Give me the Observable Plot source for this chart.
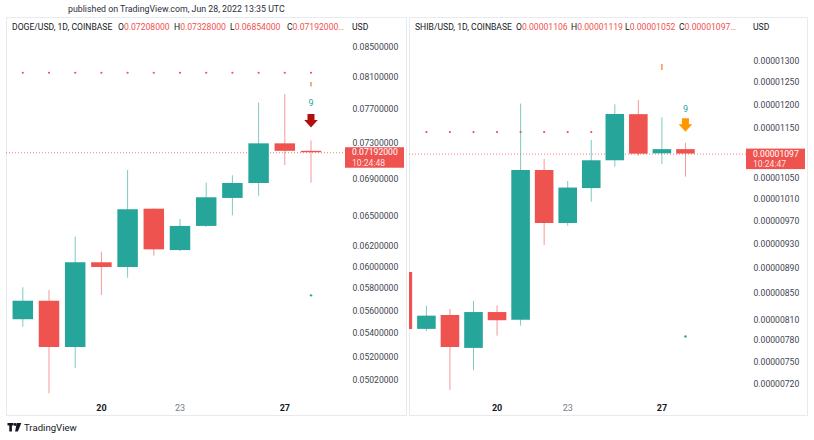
<!DOCTYPE html>
<html><head><meta charset="utf-8">
<script src="https://cdn.jsdelivr.net/npm/d3@7"></script>
<script src="https://cdn.jsdelivr.net/npm/@observablehq/plot@0.6"></script>
<style>
body{margin:0;background:#fff;font-family:Roboto,"Noto Sans",sans-serif;}
#root{position:relative;width:814px;height:440px;overflow:hidden;background:#fff}
.abs{position:absolute;white-space:nowrap;line-height:1}
.panel{position:absolute;outline:1px solid #e9eaee;outline-offset:-1px;overflow:hidden}
.panel svg{position:absolute;left:0;top:0}
.hdr{font-size:8.6px;color:#131722}
.hdr .v{color:#ef5350}
.hdr span{position:absolute;top:0}
.usd{font-size:8.6px;color:#131722}
</style></head><body><div id="root"></div>
<script>
// ---------- DATA ----------
const dogeDays  = [17,18,19,20,21,22,23,24,25,26,27,28];
const dogeOpen  = [0.05521,0.05685,0.05284,0.06042,0.05997,0.06577,0.06160,0.06400,0.06690,0.06850,0.07294,0.07208];
const dogeHigh  = [0.05807,0.05783,0.06292,0.06144,0.06993,0.06580,0.06471,0.06854,0.06934,0.07779,0.07886,0.07328];
const dogeLow   = [0.05456,0.04910,0.05109,0.05737,0.05896,0.06105,0.06150,0.06390,0.06508,0.06713,0.07048,0.06854];
const dogeClose = [0.05685,0.05284,0.06042,0.05997,0.06571,0.06167,0.06400,0.06697,0.06850,0.07294,0.07208,0.07192];
const dogeTicks = [0.085,0.081,0.077,0.073,0.069,0.065,0.062,0.060,0.058,0.056,0.054,0.052,0.0502];
const dogeDotDays = [17,18,19,20,21,22,23,24,25,26,27,28];
const dogeDotLevel = [0.08163];
const dogeSignal = {day:28, nine:0.07784, arrow:0.07568, dot:0.05738, tick:[0.0798,0.08038]};

const shibDays  = [16,17,18,19,20,21,22,23,24,25,26,27,28];
const shibOpen  = [0.000008836,0.000007963,0.000008168,0.000007691,0.000008212,0.000008098,0.000010647,0.000009663,0.000010300,0.000010837,0.000011790,0.000010975,0.000011060];
const shibHigh  = [0.000008900,0.000008308,0.000008258,0.000008380,0.000008314,0.000012020,0.000010863,0.000010435,0.000011246,0.000012005,0.000012100,0.000011722,0.000011190];
const shibLow   = [0.000007900,0.000007933,0.000007125,0.000007383,0.000007865,0.000008010,0.000009282,0.000009616,0.000010047,0.000010711,0.000010928,0.000010764,0.000010520];
const shibClose = [0.000007963,0.000008158,0.000007704,0.000008212,0.000008090,0.000010647,0.000009663,0.000010310,0.000010837,0.000011793,0.000010968,0.000011060,0.000010970];
const shibTicks = [0.000013,0.0000125,0.000012,0.0000115,0.0000105,0.0000101,0.0000097,0.0000093,0.0000089,0.0000085,0.0000081,0.0000078,0.0000075,0.0000072];
const shibDotDays = [17,18,19,20,21,22,23,24];
const shibDotLevel = [0.00001142];
const shibSignal = {day:28, nine:0.00001192, arrow:0.000011575, dot:0.00000786, tickDay:27, tick:[0.00001278,0.00001292]};

const xTicksBold = [20,27];
const xTicksNormal = [23];

// ---------- STYLE ----------
const GREEN = "#26a69a", RED = "#ef5350";
const FONT = 'Roboto,"Noto Sans",sans-serif';
const FS = "8.6px";

function rows(days,o,h,l,c){return days.map((d,i)=>({day:d,open:o[i],high:h[i],low:l[i],close:c[i]}));}

const arrowSymbol = {draw(ctx){
  ctx.moveTo(-3.5,-6.5); ctx.lineTo(3.5,-6.5); ctx.lineTo(3.5,-0.5); ctx.lineTo(6.8,-0.5);
  ctx.lineTo(0,7); ctx.lineTo(-6.8,-0.5); ctx.lineTo(-3.5,-0.5); ctx.closePath();
}};

function priceTag(price,l1,l2){
  return (index,scales,values,dims)=>{
    const y = scales.y(price);
    const x = dims.width - dims.marginRight - 4;
    const g = d3.create("svg:g").attr("font-family",FONT).attr("font-size",FS).attr("text-anchor","start");
    g.append("rect").attr("x",x).attr("y",y-5).attr("width",59).attr("height",20.5).attr("fill",RED);
    g.append("text").attr("x",x+7).attr("y",y+0.5).attr("dy","0.32em").attr("fill","#fff").text(l1);
    g.append("text").attr("x",x+7).attr("y",y+10.7).attr("dy","0.32em").attr("fill","#fff").attr("fill-opacity",0.85).text(l2);
    return g.node();
  };
}

function chart(o){
  const data = rows(o.days,o.open,o.high,o.low,o.close);
  const up = data.filter(d=>d.close>=d.open), dn = data.filter(d=>d.close<d.open);
  const last = data[data.length-1];
  const s = o.signal;
  return Plot.plot({
    width:o.width, height:399,
    marginLeft:0, marginRight:58, marginTop:0, marginBottom:15,
    x:{type:"linear", domain:o.xDomain, range:o.xRange, axis:null},
    y:{type:"log", domain:o.yDomain, range:o.yRange, axis:null},
    style:{fontFamily:FONT, fontSize:FS, color:"#434651", background:"transparent"},
    marks:[
      Plot.ruleY([last.close],{stroke:RED, strokeDasharray:"1,2", strokeOpacity:0.75}),
      Plot.dot(o.dotDays,{x:d=>d, y:()=>o.dotLevel[0], r:1.1, fill:RED, stroke:null}),
      Plot.ruleX(up,{x:"day", y1:"low", y2:"high", stroke:GREEN, strokeOpacity:0.6}),
      Plot.ruleX(dn,{x:"day", y1:"low", y2:"high", stroke:RED, strokeOpacity:0.6}),
      Plot.ruleX(up,{x:"day", y1:"open", y2:"close", stroke:GREEN, strokeWidth:o.bodyW}),
      Plot.ruleX(dn,{x:"day", y1:"open", y2:"close", stroke:RED, strokeWidth:o.bodyW}),
      Plot.ruleX([s],{x:d=>d.tickDay??d.day, y1:d=>d.tick[0], y2:d=>d.tick[1], stroke:"#f5894f", strokeWidth:1.4}),
      Plot.text([s],{x:"day", y:"nine", text:()=>"9", fill:GREEN, fontSize:9}),
      Plot.dot([s],{x:"day", y:"arrow", symbol:arrowSymbol, r:5, fill:o.arrowColor, stroke:null}),
      Plot.dot([s],{x:"day", y:"dot", r:1.2, fill:GREEN, stroke:null}),
      Plot.text(o.ticks,{y:d=>d, frameAnchor:"right", textAnchor:"start", dx:3, text:d=>d.toFixed(8), fill:"#434651"}),
      Plot.axisX({anchor:"bottom", ticks:xTicksBold, tickFormat:d=>String(d), tickSize:0, tickPadding:3, fontWeight:"bold", color:"#131722", fontSize:9, label:null}),
      Plot.axisX({anchor:"bottom", ticks:xTicksNormal, tickFormat:d=>String(d), tickSize:0, tickPadding:3, color:"#787b86", fontSize:9, label:null}),
      priceTag(last.close, o.tagText, o.tagTime)
    ]
  });
}

const root = document.getElementById("root");
function add(html){const d=document.createElement("div");d.innerHTML=html;const n=d.firstElementChild;root.appendChild(n);return n;}

add(`<div class="abs" style="left:68px;top:5px;font-size:8.8px;color:#2a2e39">published on TradingView.com, Jun 28, 2022 13:35 UTC</div>`);

const p1 = add(`<div class="panel" style="left:6px;top:17px;width:401px;height:399px"></div>`);
p1.appendChild(chart({
  width:401, days:dogeDays, open:dogeOpen, high:dogeHigh, low:dogeLow, close:dogeClose,
  xDomain:[17,28], xRange:[16.3,304.5], yDomain:[0.0502,0.085], yRange:[362.3,29.7],
  ticks:dogeTicks, dotDays:dogeDotDays, dotLevel:dogeDotLevel, signal:dogeSignal,
  bodyW:20.5, arrowColor:"#b20f0f", tagText:"0.07192000", tagTime:"10:24:48"
}));
const p2 = add(`<div class="panel" style="left:409px;top:17px;width:399px;height:399px"></div>`);
p2.appendChild(chart({
  width:399, days:shibDays, open:shibOpen, high:shibHigh, low:shibLow, close:shibClose,
  xDomain:[17,28], xRange:[16.9,275.95], yDomain:[0.0000072,0.000013], yRange:[367,43.7],
  ticks:shibTicks, dotDays:shibDotDays, dotLevel:shibDotLevel, signal:shibSignal,
  bodyW:18.6, arrowColor:"#ff9800", tagText:"0.00001097", tagTime:"10:24:47"
}));

// headers
add(`<div class="abs hdr" style="left:0;top:23px;width:410px;height:10px">
<span style="left:12px">DOGE/USD, 1D, COINBASE</span>
<span style="left:118px">O<span class="v" style="position:static">0.07208000</span></span>
<span style="left:174px">H<span class="v" style="position:static">0.07328000</span></span>
<span style="left:230px">L<span class="v" style="position:static">0.06854000</span></span>
<span style="left:287px">C<span class="v" style="position:static">0.07192000…</span></span>
</div>`);
add(`<div class="abs usd" style="left:352px;top:23px">USD</div>`);
add(`<div class="abs hdr" style="left:410px;top:23px;width:404px;height:10px">
<span style="left:5px">SHIB/USD, 1D, COINBASE</span>
<span style="left:106px">O<span class="v" style="position:static">0.00001106</span></span>
<span style="left:161px">H<span class="v" style="position:static">0.00001119</span></span>
<span style="left:215px">L<span class="v" style="position:static">0.00001052</span></span>
<span style="left:269px">C<span class="v" style="position:static">0.00001097…</span></span>
</div>`);
add(`<div class="abs usd" style="left:753px;top:23px">USD</div>`);

// footer
add(`<div class="abs" style="left:7px;top:423px;display:flex;align-items:center;gap:2px">
<svg width="15" height="9" viewBox="0 0 14 9"><path d="M0 0h6v2.6H4.4V8.5H1.8V2.6H0z" fill="#131722"/><circle cx="7.6" cy="1.5" r="1.4" fill="#131722"/><path d="M9.2 0h4.6l-3.4 8.5H7.6z" fill="#131722"/></svg>
<span style="font-size:9.6px;color:#131722">TradingView</span></div>`);
</script></body></html>
